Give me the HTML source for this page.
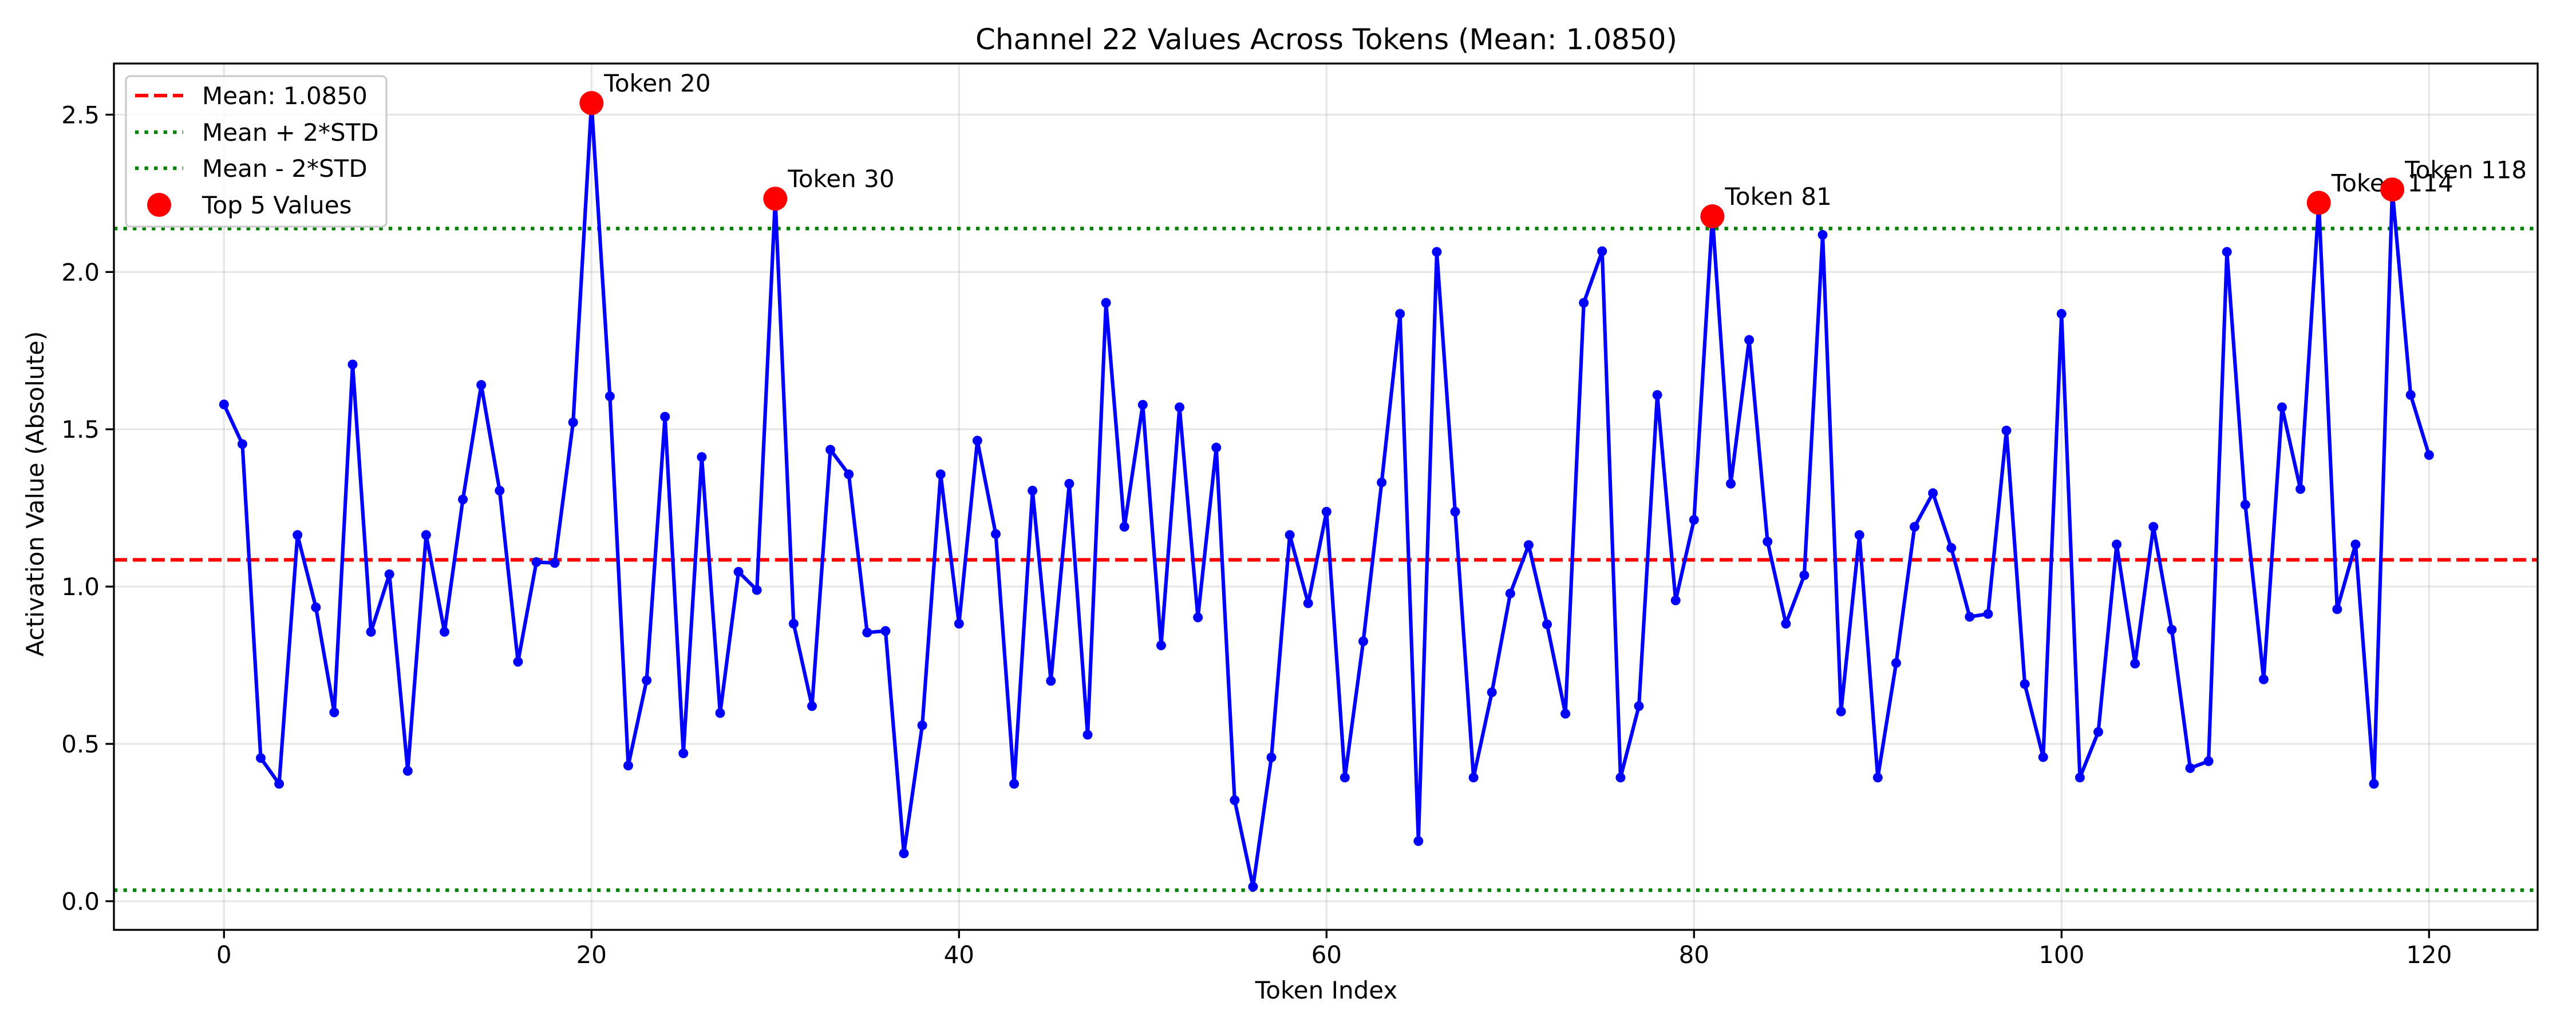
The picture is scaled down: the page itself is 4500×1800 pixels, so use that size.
<!DOCTYPE html>
<html><head><meta charset="utf-8"><style>html,body{margin:0;padding:0;background:#fff}svg{display:block}</style></head>
<body>
<svg id="chart" width="4500" height="1800" viewBox="0 0 4500 1800" xmlns="http://www.w3.org/2000/svg" font-family="'DejaVu Sans','Liberation Sans',sans-serif">
<rect width="4500" height="1800" fill="#fff"/>
<g id="grid"></g><g id="refs"></g><g id="series"></g><g id="top"></g><g id="axes"></g>
<text x="2317" y="86" font-size="50" text-anchor="middle">Channel 22 Values Across Tokens (Mean: 1.0850)</text>
<text x="2317" y="1745" font-size="42" text-anchor="middle">Token Index</text>
<text x="0" y="0" font-size="42" text-anchor="middle" transform="translate(76,863) rotate(-90)">Activation Value (Absolute)</text>
<g id="legend"></g>
</svg>
<script>
const values = [1.579,1.453,0.455,0.373,1.164,0.934,0.600,1.706,0.856,1.039,0.414,1.164,0.856,1.277,1.641,1.305,0.761,1.078,1.075,1.522,
2.537,1.605,0.431,0.702,1.540,0.470,1.412,0.598,1.047,0.989,2.233,0.882,0.620,1.435,1.357,0.854,0.859,0.152,0.559,1.357,
0.882,1.464,1.167,0.373,1.305,0.700,1.327,0.529,1.902,1.190,1.578,0.813,1.570,0.902,1.442,0.321,0.046,0.457,1.164,0.947,
1.238,0.393,0.826,1.331,1.867,0.191,2.064,1.238,0.393,0.664,0.978,1.132,0.880,0.596,1.902,2.066,0.393,0.620,1.609,0.956,
1.212,2.177,1.327,1.784,1.143,0.882,1.036,2.118,0.603,1.164,0.393,0.757,1.190,1.297,1.123,0.904,0.913,1.496,0.690,0.458,
1.867,0.393,0.538,1.134,0.755,1.190,0.863,0.423,0.445,2.064,1.260,0.705,1.570,1.310,2.220,0.928,1.134,0.373,2.262,1.609,1.418];
const topTokens = [20, 30, 81, 114, 118];
const meanValue = 1.085;
const upperValue = 2.138;
const lowerValue = 0.035;
const xTicks = [0, 20, 40, 60, 80, 100, 120];
const yTicks = [0, 0.5, 1.0, 1.5, 2.0, 2.5];
const yTickLabels = ["0.0","0.5","1.0","1.5","2.0","2.5"];

const L=199,R=4433,T=111,B=1625;
const X=i=>391.3+i*32.1;
const Y=v=>1574.9-v*549.8;
const NS="http://www.w3.org/2000/svg";
function mk(tag,attrs,parent){const e=document.createElementNS(NS,tag);for(const k in attrs)e.setAttribute(k,attrs[k]);parent.appendChild(e);return e;}
const grid=document.getElementById('grid'),refs=document.getElementById('refs'),series=document.getElementById('series'),topG=document.getElementById('top'),axes=document.getElementById('axes'),legend=document.getElementById('legend');

xTicks.forEach(t=>{
  const g=mk('line',{x1:X(t),x2:X(t),y1:T,y2:B,stroke:'#b0b0b0','stroke-opacity':0.3,'stroke-width':3.3},grid);
  
  
  const tk=mk('line',{x1:X(t),x2:X(t),y1:B,y2:B+14.6,stroke:'#000','stroke-width':3.3},axes);
  
  
  const tx=mk('text',{x:X(t),y:B+58,'font-size':42,'text-anchor':'middle'},axes);
  tx.textContent=String(t);
  
  
});
yTicks.forEach((t,i)=>{
  const g=mk('line',{x1:L,x2:R,y1:Y(t),y2:Y(t),stroke:'#b0b0b0','stroke-opacity':0.3,'stroke-width':3.3},grid);
  
  
  const tk=mk('line',{x1:L-14.6,x2:L,y1:Y(t),y2:Y(t),stroke:'#000','stroke-width':3.3},axes);
  
  
  const tx=mk('text',{x:L-25,y:Y(t)+15,'font-size':42,'text-anchor':'end'},axes);
  tx.textContent=yTickLabels[i];
  
  
});
const frame=mk('rect',{x:L,y:T,width:R-L,height:B-T,fill:'none',stroke:'#000','stroke-width':3.3},axes);



const ml=mk('line',{x1:L,x2:R,y1:Y(meanValue),y2:Y(meanValue),stroke:'#ff0000','stroke-width':6.25,'stroke-dasharray':'23 10'},refs);


const ul=mk('line',{x1:L,x2:R,y1:Y(upperValue),y2:Y(upperValue),stroke:'#008000','stroke-width':6.25,'stroke-dasharray':'6.25 10.3'},refs);


const ll=mk('line',{x1:L,x2:R,y1:Y(lowerValue),y2:Y(lowerValue),stroke:'#008000','stroke-width':6.25,'stroke-dasharray':'6.25 10.3'},refs);



const pts=values.map((v,i)=>X(i).toFixed(1)+','+Y(v).toFixed(1)).join(' ');
const pl=mk('polyline',{points:pts,fill:'none',stroke:'#0000ff','stroke-width':6.25,'stroke-linejoin':'round'},series);


values.forEach((v,i)=>{
  const c=mk('circle',{cx:X(i),cy:Y(v),r:8.5,fill:'#0000ff'},series);
  
  
});
topTokens.forEach(t=>{
  const c=mk('circle',{cx:X(t),cy:Y(values[t]),r:21,fill:'#ff0000'},topG);
  
  
  const tx=mk('text',{x:X(t)+22,y:Y(values[t])-20,'font-size':42},topG);
  tx.textContent='Token '+t;
  
  
});

const box=mk('rect',{x:220,y:133,width:455,height:263,rx:8,fill:'#fff','fill-opacity':0.8,stroke:'#cccccc','stroke-width':3.3},legend);


const entries=[['Mean: 1.0850','dash'],['Mean + 2*STD','dot'],['Mean - 2*STD','dot'],['Top 5 Values','marker']];
const ys=[167,231,294,358];
entries.forEach((e,i)=>{
  const y=ys[i];
  if(e[1]==='marker'){
    const c=mk('circle',{cx:278,cy:y,r:21,fill:'#ff0000'},legend);
    
    
  } else {
    const h=mk('line',{x1:236,x2:320,y1:y,y2:y,stroke:e[1]==='dash'?'#ff0000':'#008000','stroke-width':6.25,'stroke-dasharray':e[1]==='dash'?'23 10':'6.25 10.3'},legend);
    
    
  }
  const tx=mk('text',{x:353,y:y+15,'font-size':42},legend);
  tx.textContent=e[0];
  
  
});
</script>
</body></html>
